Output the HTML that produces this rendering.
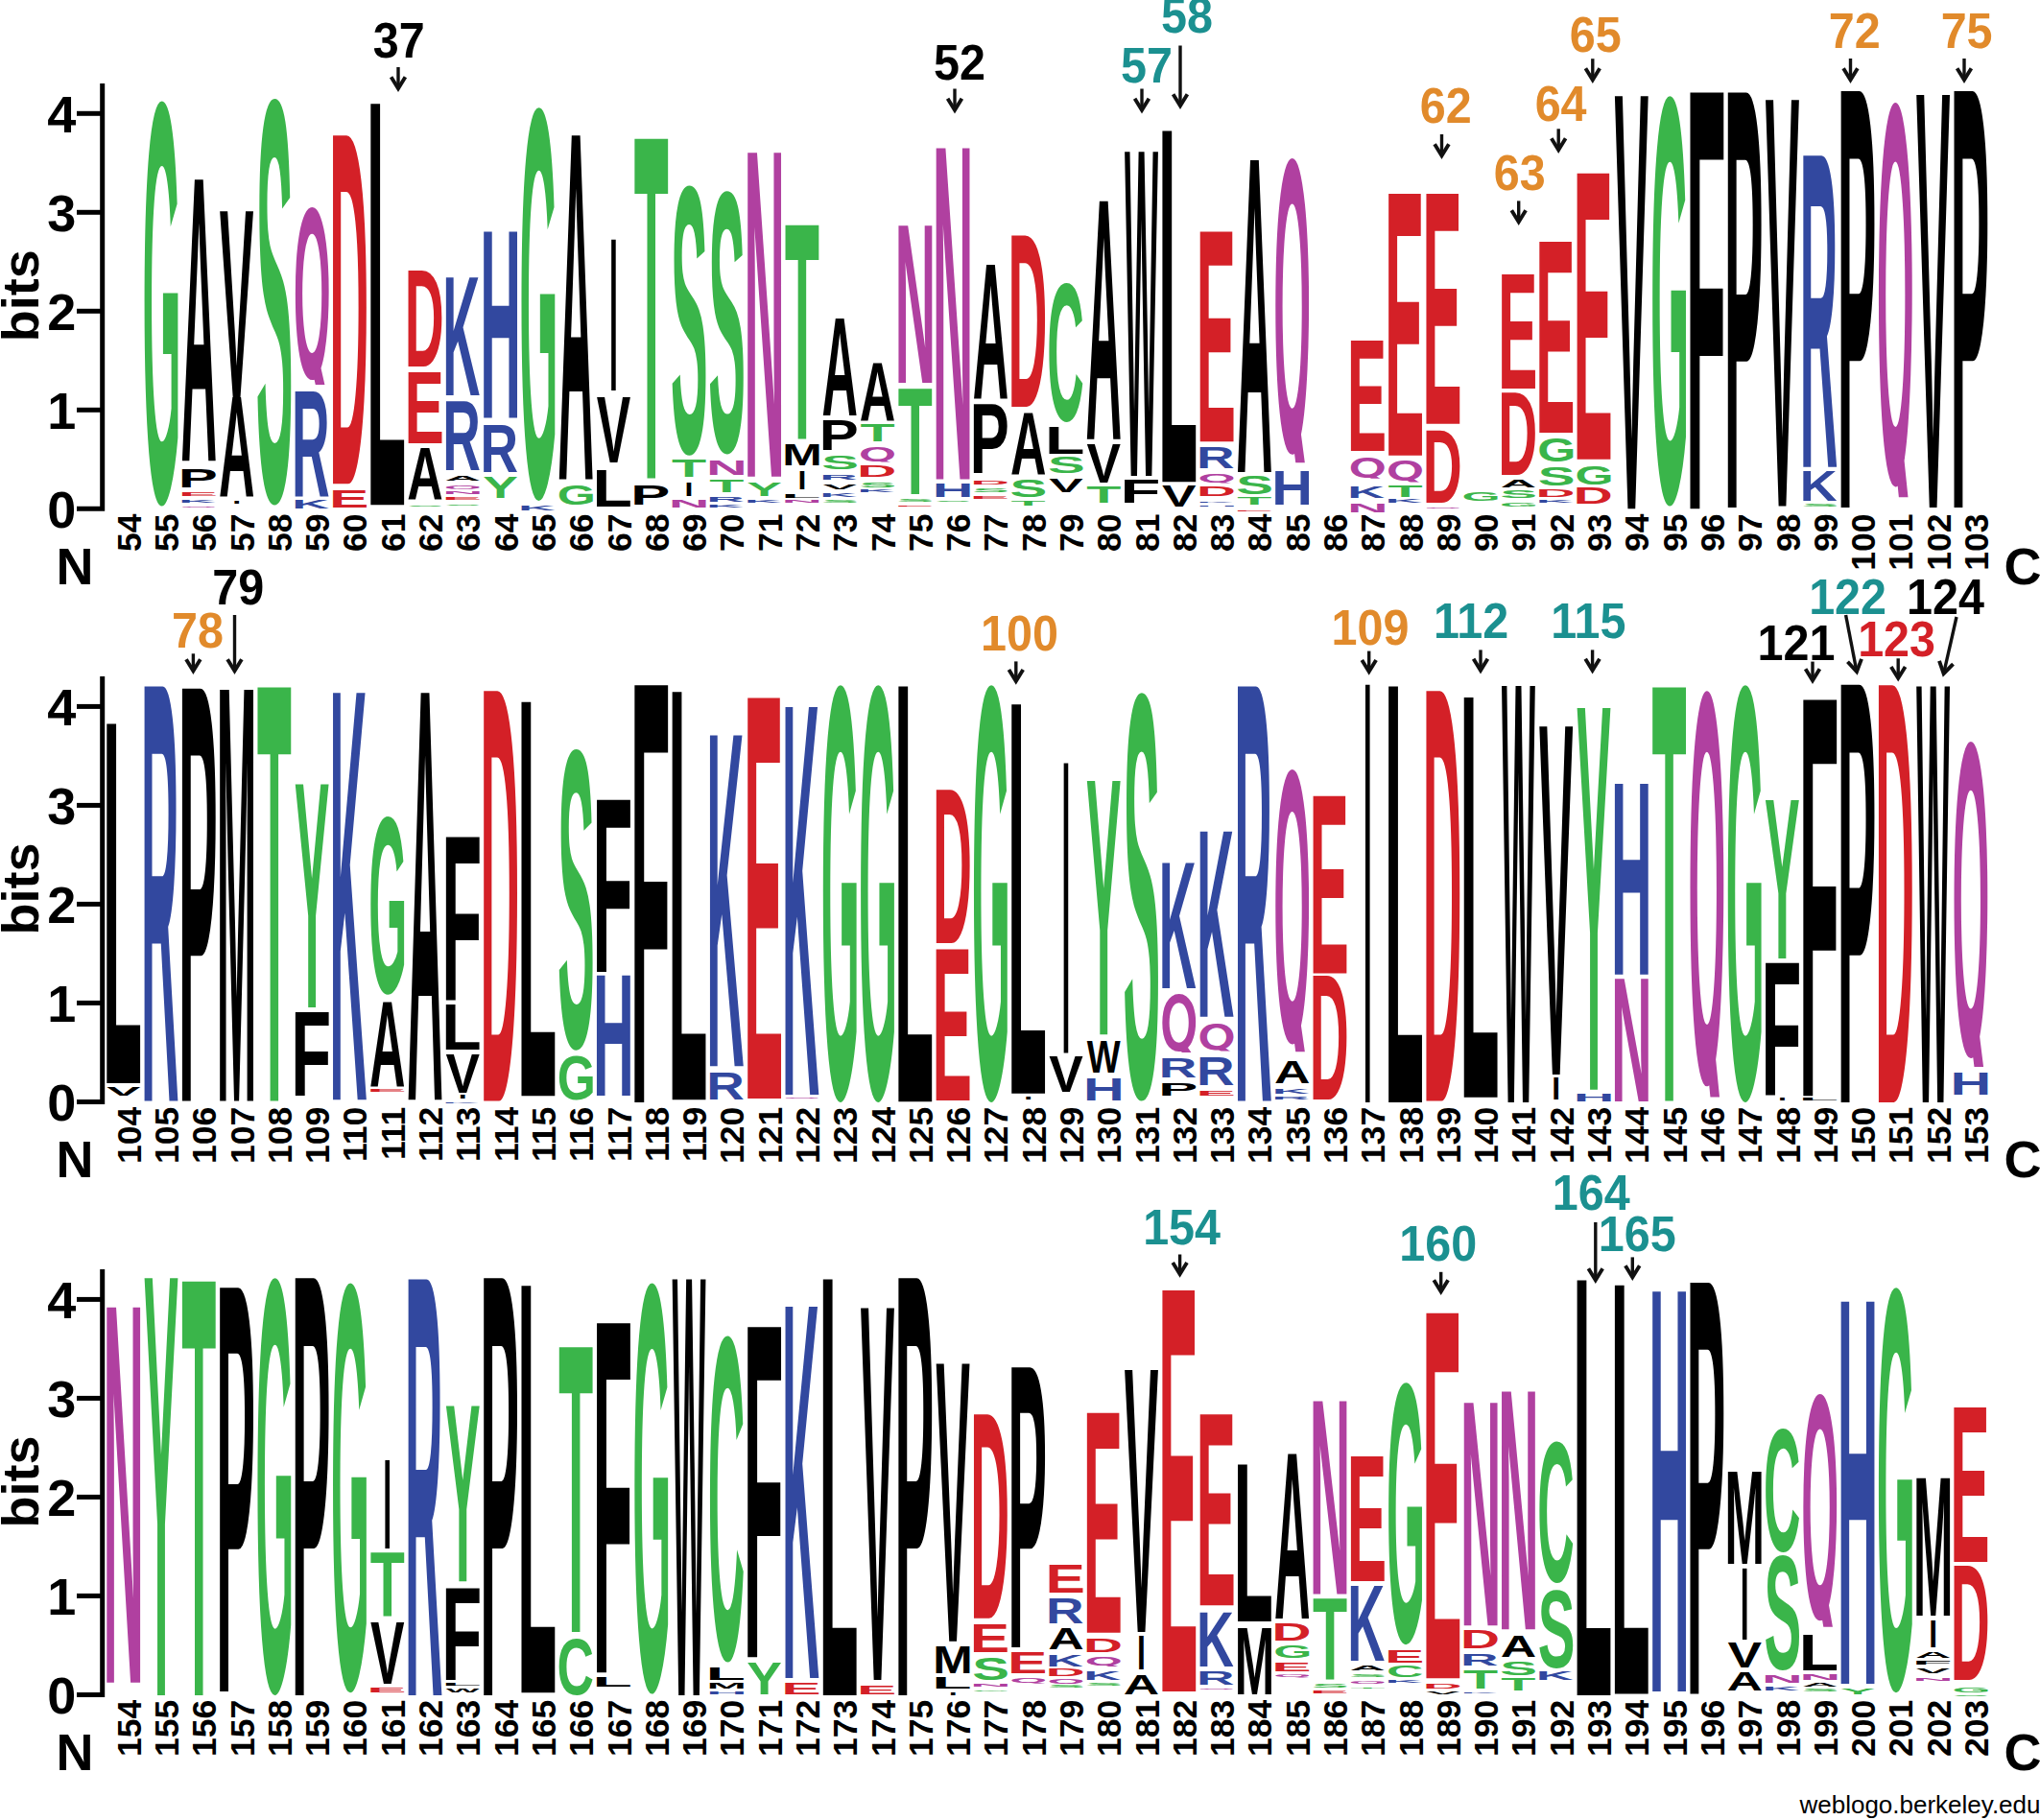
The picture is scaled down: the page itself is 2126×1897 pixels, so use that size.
<!DOCTYPE html>
<html><head><meta charset="utf-8"><title>Sequence logo</title>
<style>
html,body{margin:0;padding:0;background:#fff}
svg{display:block}
text{font-family:"Liberation Sans",sans-serif;font-weight:bold}
.L text{font-size:100px}
.L text.q{font-family:"NanumGothic","Liberation Sans",sans-serif;font-weight:800}
.ax{stroke:#000;stroke-width:5;fill:none}
.tk{font-size:54px;text-anchor:end}
.bits{font-size:54px;text-anchor:middle}
.nc{font-size:54px}
.cl{font-size:35.5px;text-anchor:end}
.an{font-size:48.5px;text-anchor:middle}
.ar{stroke:#111;stroke-width:3.4;fill:none}
.ah{fill:none;stroke:#111;stroke-width:3.9;stroke-linejoin:miter;stroke-miterlimit:10}
.wl{font-size:26px;font-weight:normal;text-anchor:end}
</style></head><body>
<svg width="2126" height="1897" viewBox="0 0 2126 1897">
<rect width="2126" height="1897" fill="#fff"/>
<g class="L">
<text transform="matrix(0.5157 0 0 5.9601 148.47 521.76)" fill="#3ab54a">G</text>
<text transform="matrix(0.5187 0 0 4.2564 188.59 480.20)">A</text>
<text transform="matrix(0.6149 0 0 0.2791 185.77 508.40)">P</text>
<text transform="matrix(0.6203 0 0 0.0596 185.73 516.60)" fill="#d42027">E</text>
<text transform="matrix(0.5387 0 0 0.0291 186.28 523.50)" fill="#32489f">K</text>
<svg x="186.88" y="524.40" width="40.80" height="4.50"><text class="q" transform="matrix(0.5097 0 0 0.0181 0.40 4.42)" fill="#b040a0">Q</text></svg>
<text transform="matrix(0.5327 0 0 2.8194 228.81 414.30)">V</text>
<text transform="matrix(0.5187 0 0 1.4971 227.88 517.30)">A</text>
<text transform="matrix(0.3193 0 0 0.0436 242.13 524.50)">I</text>
<text transform="matrix(0.5809 0 0 5.9820 266.79 520.66)" fill="#3ab54a">S</text>
<svg x="304.75" y="213.37" width="40.80" height="187.62"><text class="q" transform="matrix(0.5097 0 0 2.2270 0.40 177.59)" fill="#b040a0">Q</text></svg>
<text transform="matrix(0.5482 0 0 1.5909 304.08 518.35)" fill="#32489f">R</text>
<text transform="matrix(0.5387 0 0 0.1265 304.15 530.22)" fill="#32489f">K</text>
<text transform="matrix(0.5674 0 0 5.2776 343.24 504.30)" fill="#d42027">D</text>
<text transform="matrix(0.6203 0 0 0.2587 342.89 529.00)" fill="#d42027">E</text>
<text transform="matrix(0.6781 0 0 6.0760 381.79 526.26)">L</text>
<text transform="matrix(0.5674 0 0 1.4490 421.82 382.00)" fill="#d42027">D</text>
<text transform="matrix(0.6203 0 0 1.0683 421.47 461.70)" fill="#d42027">E</text>
<text transform="matrix(0.5187 0 0 0.7791 424.33 520.80)">A</text>
<text transform="matrix(0.5809 0 0 0.0254 423.95 527.78)" fill="#3ab54a">S</text>
<text transform="matrix(0.5387 0 0 1.7745 461.31 412.30)" fill="#32489f">K</text>
<text transform="matrix(0.5482 0 0 1.0393 461.24 489.90)" fill="#32489f">R</text>
<text transform="matrix(0.5187 0 0 0.0756 463.62 500.60)">A</text>
<svg x="461.91" y="502.70" width="40.80" height="7.10"><text class="q" transform="matrix(0.5097 0 0 0.0495 0.40 6.88)" fill="#b040a0">Q</text></svg>
<text transform="matrix(0.5919 0 0 0.0436 460.95 514.60)" fill="#b040a0">N</text>
<text transform="matrix(0.6203 0 0 0.0407 460.76 520.80)" fill="#d42027">E</text>
<text transform="matrix(0.5809 0 0 0.0198 463.24 527.38)" fill="#3ab54a">S</text>
<text transform="matrix(0.5919 0 0 2.8223 500.24 435.60)" fill="#32489f">H</text>
<text transform="matrix(0.5482 0 0 0.6991 500.53 491.90)" fill="#32489f">R</text>
<text transform="matrix(0.5491 0 0 0.3198 503.26 519.40)" fill="#3ab54a">Y</text>
<text transform="matrix(0.5157 0 0 5.7895 541.37 516.45)" fill="#3ab54a">G</text>
<text transform="matrix(0.5387 0 0 0.0799 539.89 531.50)" fill="#32489f">K</text>
<text transform="matrix(0.5187 0 0 5.2078 581.49 499.50)">A</text>
<text transform="matrix(0.5157 0 0 0.2910 580.66 526.02)" fill="#3ab54a">G</text>
<text transform="matrix(0.3193 0 0 2.2887 635.03 406.80)">I</text>
<text transform="matrix(0.5327 0 0 0.9884 621.71 482.30)">V</text>
<text transform="matrix(0.6781 0 0 0.5480 617.53 527.60)">L</text>
<text transform="matrix(0.5910 0 0 5.1445 660.70 498.57)" fill="#3ab54a">T</text>
<text transform="matrix(0.6149 0 0 0.2990 657.25 525.74)">P</text>
<text transform="matrix(0.5809 0 0 3.9741 698.98 470.92)" fill="#3ab54a">S</text>
<text transform="matrix(0.5910 0 0 0.2500 699.99 497.40)" fill="#3ab54a">T</text>
<text transform="matrix(0.3193 0 0 0.1991 713.61 516.60)">I</text>
<text transform="matrix(0.5919 0 0 0.1003 696.69 529.00)" fill="#b040a0">N</text>
<text transform="matrix(0.5809 0 0 3.8724 738.27 469.62)" fill="#3ab54a">S</text>
<text transform="matrix(0.5919 0 0 0.2195 735.98 494.70)" fill="#b040a0">N</text>
<text transform="matrix(0.5910 0 0 0.1788 739.28 512.50)" fill="#3ab54a">T</text>
<text transform="matrix(0.5482 0 0 0.0799 736.27 522.80)" fill="#32489f">R</text>
<text transform="matrix(0.5387 0 0 0.0291 736.34 529.00)" fill="#32489f">K</text>
<text transform="matrix(0.5919 0 0 4.9064 775.27 496.70)" fill="#b040a0">N</text>
<text transform="matrix(0.5491 0 0 0.2093 778.29 516.60)" fill="#3ab54a">Y</text>
<text transform="matrix(0.5387 0 0 0.0392 775.63 523.50)" fill="#32489f">K</text>
<text transform="matrix(0.5910 0 0 3.2379 817.86 457.60)" fill="#3ab54a">T</text>
<text transform="matrix(0.4977 0 0 0.3096 815.19 485.10)">M</text>
<text transform="matrix(0.3193 0 0 0.2805 831.48 509.80)">I</text>
<text transform="matrix(0.6781 0 0 0.0596 813.98 518.70)">L</text>
<text transform="matrix(0.5919 0 0 0.0305 814.56 524.20)" fill="#b040a0">N</text>
<text transform="matrix(0.5187 0 0 1.4579 856.52 432.90)">A</text>
<text transform="matrix(0.6149 0 0 0.4404 853.70 469.30)">P</text>
<text transform="matrix(0.5809 0 0 0.2034 856.14 489.00)" fill="#3ab54a">S</text>
<text transform="matrix(0.5482 0 0 0.0698 854.14 499.50)" fill="#32489f">R</text>
<text transform="matrix(0.5327 0 0 0.0799 857.45 509.80)">V</text>
<text transform="matrix(0.5387 0 0 0.0494 854.21 518.00)" fill="#32489f">K</text>
<text transform="matrix(0.5809 0 0 0.0297 856.14 524.17)" fill="#3ab54a">S</text>
<text transform="matrix(0.5187 0 0 0.8794 895.81 437.70)">A</text>
<text transform="matrix(0.5910 0 0 0.2587 896.44 460.30)" fill="#3ab54a">T</text>
<svg x="894.10" y="463.50" width="40.80" height="18.10"><text class="q" transform="matrix(0.5097 0 0 0.1821 0.40 17.28)" fill="#b040a0">Q</text></svg>
<text transform="matrix(0.5674 0 0 0.1599 893.30 497.40)" fill="#d42027">D</text>
<text transform="matrix(0.5809 0 0 0.0777 895.43 507.62)" fill="#3ab54a">S</text>
<text transform="matrix(0.5387 0 0 0.0291 893.50 513.20)" fill="#32489f">K</text>
<text transform="matrix(0.5919 0 0 2.3789 932.43 398.50)" fill="#b040a0">N</text>
<text transform="matrix(0.5910 0 0 1.5974 935.73 515.30)" fill="#3ab54a">T</text>
<text transform="matrix(0.5809 0 0 0.0282 934.72 522.77)" fill="#3ab54a">S</text>
<text transform="matrix(0.6203 0 0 0.0189 932.24 527.80)" fill="#d42027">E</text>
<text transform="matrix(0.5919 0 0 5.0161 971.72 499.50)" fill="#b040a0">N</text>
<text transform="matrix(0.5919 0 0 0.2093 971.72 518.00)" fill="#32489f">H</text>
<text transform="matrix(0.5809 0 0 0.0198 974.01 523.48)" fill="#3ab54a">S</text>
<text transform="matrix(0.5187 0 0 2.0257 1013.68 416.40)">A</text>
<text transform="matrix(0.6149 0 0 1.0378 1010.86 493.30)">P</text>
<text transform="matrix(0.5674 0 0 0.0509 1011.17 505.00)" fill="#d42027">D</text>
<text transform="matrix(0.5809 0 0 0.0480 1013.30 513.15)" fill="#3ab54a">S</text>
<text transform="matrix(0.6203 0 0 0.0407 1010.82 520.10)" fill="#d42027">E</text>
<text transform="matrix(0.5674 0 0 2.5947 1050.46 423.90)" fill="#d42027">D</text>
<text transform="matrix(0.5187 0 0 0.9288 1052.97 494.00)">A</text>
<text transform="matrix(0.5809 0 0 0.2613 1052.59 517.74)" fill="#3ab54a">S</text>
<text transform="matrix(0.5910 0 0 0.0712 1053.60 527.00)" fill="#3ab54a">T</text>
<text transform="matrix(0.5323 0 0 2.0466 1091.37 437.70)" fill="#3ab54a">C</text>
<text transform="matrix(0.6781 0 0 0.3997 1089.01 472.70)">L</text>
<text transform="matrix(0.5809 0 0 0.2330 1091.88 493.07)" fill="#3ab54a">S</text>
<text transform="matrix(0.5327 0 0 0.2093 1093.19 512.50)">V</text>
<text transform="matrix(0.5187 0 0 3.6034 1131.55 457.69)">A</text>
<text transform="matrix(0.5327 0 0 0.5750 1132.48 502.53)">V</text>
<text transform="matrix(0.5910 0 0 0.2300 1132.18 523.63)" fill="#3ab54a">T</text>
<text transform="matrix(0.3695 0 0 4.9068 1172.09 495.93)">W</text>
<text transform="matrix(0.6860 0 0 0.3450 1167.54 523.63)">F</text>
<text transform="matrix(0.6781 0 0 5.3161 1206.88 502.20)">L</text>
<text transform="matrix(0.5327 0 0 0.3096 1211.06 528.30)">V</text>
<text transform="matrix(0.6203 0 0 3.1813 1246.56 460.30)" fill="#d42027">E</text>
<text transform="matrix(0.5482 0 0 0.3096 1247.04 487.80)" fill="#32489f">R</text>
<svg x="1247.71" y="490.30" width="40.80" height="13.30"><text class="q" transform="matrix(0.5097 0 0 0.1242 0.40 12.74)" fill="#b040a0">Q</text></svg>
<text transform="matrix(0.5674 0 0 0.1395 1246.91 516.60)" fill="#d42027">D</text>
<text transform="matrix(0.5387 0 0 0.0203 1247.11 523.50)" fill="#32489f">K</text>
<text transform="matrix(0.5919 0 0 0.0189 1246.75 528.30)" fill="#32489f">H</text>
<text transform="matrix(0.5187 0 0 4.7217 1288.71 491.90)">A</text>
<text transform="matrix(0.5809 0 0 0.2726 1288.33 515.03)" fill="#3ab54a">S</text>
<text transform="matrix(0.5910 0 0 0.1003 1289.34 525.60)" fill="#3ab54a">T</text>
<text transform="matrix(0.6203 0 0 0.0233 1285.85 532.60)" fill="#d42027">E</text>
<svg x="1326.29" y="161.95" width="40.80" height="320.35"><text class="q" transform="matrix(0.5097 0 0 3.8282 0.40 303.13)" fill="#b040a0">Q</text></svg>
<text transform="matrix(0.5919 0 0 0.5000 1325.33 525.60)" fill="#32489f">H</text>
<text transform="matrix(0.6203 0 0 1.6774 1403.72 470.00)" fill="#d42027">E</text>
<svg x="1404.87" y="472.40" width="40.80" height="26.40"><text class="q" transform="matrix(0.5097 0 0 0.2823 0.40 25.13)" fill="#b040a0">Q</text></svg>
<text transform="matrix(0.5387 0 0 0.1599 1404.27 519.40)" fill="#32489f">K</text>
<text transform="matrix(0.5919 0 0 0.1352 1403.91 533.50)" fill="#b040a0">N</text>
<text transform="matrix(0.6203 0 0 3.9676 1443.01 474.84)" fill="#d42027">E</text>
<svg x="1444.16" y="477.11" width="40.80" height="25.42"><text class="q" transform="matrix(0.5097 0 0 0.2704 0.40 24.20)" fill="#b040a0">Q</text></svg>
<text transform="matrix(0.5910 0 0 0.1725 1446.50 518.35)" fill="#3ab54a">T</text>
<text transform="matrix(0.5387 0 0 0.0575 1443.56 523.89)" fill="#32489f">K</text>
<text transform="matrix(0.6203 0 0 3.4874 1482.30 441.80)" fill="#d42027">E</text>
<text transform="matrix(0.5674 0 0 1.1018 1482.65 523.80)" fill="#d42027">D</text>
<svg x="1483.45" y="526.00" width="40.80" height="4.40"><text class="q" transform="matrix(0.5097 0 0 0.0169 0.40 4.32)" fill="#b040a0">Q</text></svg>
<text transform="matrix(0.5157 0 0 0.1257 1523.62 521.98)" fill="#3ab54a">G</text>
<text transform="matrix(0.6203 0 0 1.7292 1560.88 404.70)" fill="#d42027">E</text>
<text transform="matrix(0.5674 0 0 1.2486 1561.23 495.40)" fill="#d42027">D</text>
<text transform="matrix(0.5187 0 0 0.1090 1563.74 507.70)">A</text>
<text transform="matrix(0.5809 0 0 0.1158 1563.36 519.29)" fill="#3ab54a">S</text>
<text transform="matrix(0.5157 0 0 0.0579 1562.91 528.24)" fill="#3ab54a">G</text>
<text transform="matrix(0.6203 0 0 2.8942 1600.17 451.10)" fill="#d42027">E</text>
<text transform="matrix(0.5157 0 0 0.3539 1602.20 481.08)" fill="#3ab54a">G</text>
<text transform="matrix(0.5809 0 0 0.2794 1602.65 506.21)" fill="#3ab54a">S</text>
<text transform="matrix(0.5674 0 0 0.1150 1600.52 518.35)" fill="#d42027">D</text>
<text transform="matrix(0.5387 0 0 0.0307 1600.72 524.15)" fill="#32489f">K</text>
<text transform="matrix(0.6203 0 0 4.3318 1639.46 478.79)" fill="#d42027">E</text>
<text transform="matrix(0.5157 0 0 0.2794 1641.49 504.89)" fill="#3ab54a">G</text>
<text transform="matrix(0.5674 0 0 0.2300 1639.81 524.95)" fill="#d42027">D</text>
<text transform="matrix(0.5327 0 0 6.2482 1682.54 530.20)">V</text>
<text transform="matrix(0.5157 0 0 6.0346 1720.07 521.69)" fill="#3ab54a">G</text>
<text transform="matrix(0.6860 0 0 6.3057 1756.89 530.20)">F</text>
<text transform="matrix(0.6149 0 0 6.2868 1796.66 528.90)">P</text>
<text transform="matrix(0.5327 0 0 6.1527 1839.70 527.58)">V</text>
<text transform="matrix(0.5482 0 0 4.7151 1875.68 486.70)" fill="#32489f">R</text>
<text transform="matrix(0.5387 0 0 0.4408 1875.75 522.31)" fill="#32489f">K</text>
<text transform="matrix(0.5809 0 0 0.0298 1877.68 528.08)" fill="#3ab54a">S</text>
<text transform="matrix(0.6149 0 0 6.3060 1914.53 528.90)">P</text>
<svg x="1954.93" y="103.92" width="40.80" height="414.43"><text class="q" transform="matrix(0.5097 0 0 4.9630 0.40 392.10)" fill="#b040a0">Q</text></svg>
<text transform="matrix(0.5327 0 0 6.2485 1996.86 528.90)">V</text>
<text transform="matrix(0.6149 0 0 6.3060 2032.40 528.90)">P</text>
</g>
<path d="M106.7 87.0V532.8M109.2 530.3H80" class="ax"/>
<path d="M106.7 427.3H80" class="ax"/>
<path d="M106.7 324.3H80" class="ax"/>
<path d="M106.7 221.3H80" class="ax"/>
<path d="M106.7 118.3H80" class="ax"/>
<text class="tk" x="79.3" y="549.6">0</text>
<text class="tk" x="79.3" y="446.6">1</text>
<text class="tk" x="79.3" y="343.6">2</text>
<text class="tk" x="79.3" y="240.6">3</text>
<text class="tk" x="79.3" y="137.6">4</text>
<text class="bits" transform="translate(40 308.3) rotate(-90)">bits</text>
<text class="nc" x="78" y="608.9" text-anchor="middle">N</text>
<text class="nc" x="2108" y="608.9" text-anchor="middle">C</text>
<text class="cl" transform="translate(146.7 535.6) rotate(-90)">54</text>
<text class="cl" transform="translate(186.0 535.6) rotate(-90)">55</text>
<text class="cl" transform="translate(225.3 535.6) rotate(-90)">56</text>
<text class="cl" transform="translate(264.6 535.6) rotate(-90)">57</text>
<text class="cl" transform="translate(303.9 535.6) rotate(-90)">58</text>
<text class="cl" transform="translate(343.1 535.6) rotate(-90)">59</text>
<text class="cl" transform="translate(382.4 535.6) rotate(-90)">60</text>
<text class="cl" transform="translate(421.7 535.6) rotate(-90)">61</text>
<text class="cl" transform="translate(461.0 535.6) rotate(-90)">62</text>
<text class="cl" transform="translate(500.3 535.6) rotate(-90)">63</text>
<text class="cl" transform="translate(539.6 535.6) rotate(-90)">64</text>
<text class="cl" transform="translate(578.9 535.6) rotate(-90)">65</text>
<text class="cl" transform="translate(618.2 535.6) rotate(-90)">66</text>
<text class="cl" transform="translate(657.5 535.6) rotate(-90)">67</text>
<text class="cl" transform="translate(696.8 535.6) rotate(-90)">68</text>
<text class="cl" transform="translate(736.0 535.6) rotate(-90)">69</text>
<text class="cl" transform="translate(775.3 535.6) rotate(-90)">70</text>
<text class="cl" transform="translate(814.6 535.6) rotate(-90)">71</text>
<text class="cl" transform="translate(853.9 535.6) rotate(-90)">72</text>
<text class="cl" transform="translate(893.2 535.6) rotate(-90)">73</text>
<text class="cl" transform="translate(932.5 535.6) rotate(-90)">74</text>
<text class="cl" transform="translate(971.8 535.6) rotate(-90)">75</text>
<text class="cl" transform="translate(1011.1 535.6) rotate(-90)">76</text>
<text class="cl" transform="translate(1050.4 535.6) rotate(-90)">77</text>
<text class="cl" transform="translate(1089.7 535.6) rotate(-90)">78</text>
<text class="cl" transform="translate(1129.0 535.6) rotate(-90)">79</text>
<text class="cl" transform="translate(1168.2 535.6) rotate(-90)">80</text>
<text class="cl" transform="translate(1207.5 535.6) rotate(-90)">81</text>
<text class="cl" transform="translate(1246.8 535.6) rotate(-90)">82</text>
<text class="cl" transform="translate(1286.1 535.6) rotate(-90)">83</text>
<text class="cl" transform="translate(1325.4 535.6) rotate(-90)">84</text>
<text class="cl" transform="translate(1364.7 535.6) rotate(-90)">85</text>
<text class="cl" transform="translate(1404.0 535.6) rotate(-90)">86</text>
<text class="cl" transform="translate(1443.3 535.6) rotate(-90)">87</text>
<text class="cl" transform="translate(1482.6 535.6) rotate(-90)">88</text>
<text class="cl" transform="translate(1521.8 535.6) rotate(-90)">89</text>
<text class="cl" transform="translate(1561.1 535.6) rotate(-90)">90</text>
<text class="cl" transform="translate(1600.4 535.6) rotate(-90)">91</text>
<text class="cl" transform="translate(1639.7 535.6) rotate(-90)">92</text>
<text class="cl" transform="translate(1679.0 535.6) rotate(-90)">93</text>
<text class="cl" transform="translate(1718.3 535.6) rotate(-90)">94</text>
<text class="cl" transform="translate(1757.6 535.6) rotate(-90)">95</text>
<text class="cl" transform="translate(1796.9 535.6) rotate(-90)">96</text>
<text class="cl" transform="translate(1836.2 535.6) rotate(-90)">97</text>
<text class="cl" transform="translate(1875.5 535.6) rotate(-90)">98</text>
<text class="cl" transform="translate(1914.8 535.6) rotate(-90)">99</text>
<text class="cl" transform="translate(1954.0 535.6) rotate(-90)">100</text>
<text class="cl" transform="translate(1993.3 535.6) rotate(-90)">101</text>
<text class="cl" transform="translate(2032.6 535.6) rotate(-90)">102</text>
<text class="cl" transform="translate(2071.9 535.6) rotate(-90)">103</text>
<g class="L">
<text transform="matrix(0.6781 0 0 5.4435 106.76 1129.12)">L</text>
<text transform="matrix(0.5327 0 0 0.1342 110.94 1142.31)">V</text>
<text transform="matrix(0.5482 0 0 6.2792 146.92 1147.58)" fill="#32489f">R</text>
<text transform="matrix(0.6149 0 0 6.2485 185.77 1147.58)">P</text>
<text transform="matrix(0.4977 0 0 6.2293 225.84 1147.58)">M</text>
<text transform="matrix(0.5910 0 0 6.2677 267.80 1147.58)" fill="#3ab54a">T</text>
<text transform="matrix(0.5491 0 0 3.3811 306.81 1050.00)" fill="#3ab54a">Y</text>
<text transform="matrix(0.6860 0 0 1.2650 303.16 1142.31)">F</text>
<text transform="matrix(0.5387 0 0 6.1642 343.44 1146.26)" fill="#32489f">K</text>
<text transform="matrix(0.5157 0 0 2.6262 384.21 1034.25)" fill="#3ab54a">G</text>
<text transform="matrix(0.5187 0 0 1.2842 385.04 1133.08)">A</text>
<text transform="matrix(0.6203 0 0 0.0307 382.18 1137.82)" fill="#d42027">E</text>
<text transform="matrix(0.5187 0 0 6.1642 424.33 1146.26)">A</text>
<text transform="matrix(0.6860 0 0 2.4698 460.32 1041.90)">F</text>
<text transform="matrix(0.6781 0 0 0.6788 460.37 1094.10)">L</text>
<text transform="matrix(0.5327 0 0 0.5698 464.55 1138.80)">V</text>
<text transform="matrix(0.3193 0 0 0.0509 477.87 1145.00)">I</text>
<text transform="matrix(0.5387 0 0 0.0174 461.31 1150.20)" fill="#32489f">K</text>
<text transform="matrix(0.5674 0 0 6.2102 500.40 1147.58)" fill="#d42027">D</text>
<text transform="matrix(0.6781 0 0 5.9687 538.95 1142.31)">L</text>
<text transform="matrix(0.5809 0 0 4.4323 581.11 1090.47)" fill="#3ab54a">S</text>
<text transform="matrix(0.5157 0 0 0.6497 580.66 1145.67)" fill="#3ab54a">G</text>
<text transform="matrix(0.6860 0 0 2.6067 617.48 1013.08)">F</text>
<text transform="matrix(0.5919 0 0 1.8209 618.11 1142.31)" fill="#32489f">H</text>
<text transform="matrix(0.6860 0 0 6.3175 656.77 1148.90)">F</text>
<text transform="matrix(0.6781 0 0 6.1795 696.11 1146.26)">L</text>
<text transform="matrix(0.5387 0 0 5.0120 736.34 1111.30)" fill="#32489f">K</text>
<text transform="matrix(0.5482 0 0 0.4084 736.27 1146.30)" fill="#32489f">R</text>
<text transform="matrix(0.6203 0 0 6.0683 775.08 1144.95)" fill="#d42027">E</text>
<text transform="matrix(0.5387 0 0 5.8728 814.92 1140.99)" fill="#32489f">K</text>
<svg x="815.52" y="1140.63" width="40.80" height="4.58"><text class="q" transform="matrix(0.5097 0 0 0.0191 0.40 4.50)" fill="#b040a0">Q</text></svg>
<text transform="matrix(0.5157 0 0 6.1389 855.69 1142.91)" fill="#3ab54a">G</text>
<text transform="matrix(0.5157 0 0 6.1389 894.98 1142.91)" fill="#3ab54a">G</text>
<text transform="matrix(0.6781 0 0 6.2907 931.85 1148.37)">L</text>
<text transform="matrix(0.5674 0 0 2.3215 971.88 982.90)" fill="#d42027">D</text>
<text transform="matrix(0.6203 0 0 2.2762 971.53 1147.00)" fill="#d42027">E</text>
<text transform="matrix(0.5157 0 0 6.1389 1012.85 1142.91)" fill="#3ab54a">G</text>
<text transform="matrix(0.6781 0 0 5.8920 1049.72 1139.67)">L</text>
<text transform="matrix(0.3193 0 0 0.0422 1067.22 1146.26)">I</text>
<text transform="matrix(0.3193 0 0 4.3893 1106.51 1097.47)">I</text>
<text transform="matrix(0.5327 0 0 0.5367 1093.19 1138.35)">V</text>
<text transform="matrix(0.5491 0 0 3.8423 1131.90 1078.30)" fill="#3ab54a">Y</text>
<text transform="matrix(0.3695 0 0 0.4797 1132.80 1118.20)">W</text>
<text transform="matrix(0.5919 0 0 0.3387 1128.88 1147.00)" fill="#32489f">H</text>
<text transform="matrix(0.5809 0 0 6.0085 1170.46 1141.71)" fill="#3ab54a">S</text>
<text transform="matrix(0.5387 0 0 1.8885 1207.82 1029.60)" fill="#32489f">K</text>
<svg x="1208.42" y="1032.70" width="40.80" height="64.20"><text class="q" transform="matrix(0.5097 0 0 0.7382 0.40 60.88)" fill="#b040a0">Q</text></svg>
<text transform="matrix(0.5482 0 0 0.2907 1207.75 1123.00)" fill="#32489f">R</text>
<text transform="matrix(0.6149 0 0 0.1802 1207.31 1141.50)">P</text>
<text transform="matrix(0.5387 0 0 2.8067 1247.11 1059.80)" fill="#32489f">K</text>
<svg x="1247.71" y="1063.70" width="40.80" height="31.80"><text class="q" transform="matrix(0.5097 0 0 0.3474 0.40 30.24)" fill="#b040a0">Q</text></svg>
<text transform="matrix(0.5482 0 0 0.4186 1247.04 1131.20)" fill="#32489f">R</text>
<text transform="matrix(0.6203 0 0 0.0799 1246.56 1141.50)" fill="#d42027">E</text>
<text transform="matrix(0.5482 0 0 6.2792 1286.33 1147.58)" fill="#32489f">R</text>
<svg x="1326.29" y="799.09" width="40.80" height="297.11"><text class="q" transform="matrix(0.5097 0 0 3.5478 0.40 281.15)" fill="#b040a0">Q</text></svg>
<text transform="matrix(0.5187 0 0 0.3387 1328.00 1129.10)">A</text>
<text transform="matrix(0.5387 0 0 0.0799 1325.69 1140.10)" fill="#32489f">K</text>
<text transform="matrix(0.5482 0 0 0.0291 1325.62 1145.60)" fill="#32489f">R</text>
<text transform="matrix(0.6203 0 0 2.6834 1364.43 1014.40)" fill="#d42027">E</text>
<text transform="matrix(0.5674 0 0 1.8784 1364.78 1146.26)" fill="#d42027">D</text>
<text transform="matrix(0.3193 0 0 6.3252 1420.83 1148.90)">I</text>
<text transform="matrix(0.6781 0 0 6.2983 1442.62 1148.90)">L</text>
<text transform="matrix(0.5674 0 0 6.2102 1482.65 1147.58)" fill="#d42027">D</text>
<text transform="matrix(0.6781 0 0 6.0568 1521.20 1143.63)">L</text>
<text transform="matrix(0.3695 0 0 6.3060 1564.99 1148.90)">W</text>
<text transform="matrix(0.5327 0 0 5.2710 1603.96 1119.89)">V</text>
<text transform="matrix(0.3193 0 0 0.3258 1617.28 1146.26)">I</text>
<text transform="matrix(0.5491 0 0 5.7808 1642.67 1135.71)" fill="#3ab54a">Y</text>
<text transform="matrix(0.5919 0 0 0.1150 1639.65 1147.58)" fill="#32489f">H</text>
<text transform="matrix(0.5919 0 0 2.8866 1678.94 1015.71)" fill="#32489f">H</text>
<text transform="matrix(0.5919 0 0 1.8592 1678.94 1147.58)" fill="#b040a0">N</text>
<text transform="matrix(0.5910 0 0 6.2677 1721.53 1147.58)" fill="#3ab54a">T</text>
<svg x="1758.48" y="717.33" width="40.80" height="426.27"><text class="q" transform="matrix(0.5097 0 0 5.1058 0.40 403.29)" fill="#b040a0">Q</text></svg>
<text transform="matrix(0.5157 0 0 6.1389 1798.65 1142.91)" fill="#3ab54a">G</text>
<text transform="matrix(0.5491 0 0 2.4036 1839.12 998.57)" fill="#3ab54a">Y</text>
<text transform="matrix(0.6860 0 0 2.0126 1835.47 1142.31)">F</text>
<text transform="matrix(0.3193 0 0 0.0307 1853.02 1146.79)">I</text>
<text transform="matrix(0.6860 0 0 5.9993 1874.76 1142.31)">F</text>
<text transform="matrix(0.6781 0 0 0.0268 1874.81 1147.32)">L</text>
<text transform="matrix(0.6149 0 0 6.3252 1914.53 1148.90)">P</text>
<text transform="matrix(0.5674 0 0 6.3175 1954.13 1148.90)" fill="#d42027">D</text>
<text transform="matrix(0.3695 0 0 6.2983 1997.18 1148.90)">W</text>
<svg x="2033.51" y="770.08" width="40.80" height="341.90"><text class="q" transform="matrix(0.5097 0 0 4.0881 0.40 323.50)" fill="#b040a0">Q</text></svg>
<text transform="matrix(0.5919 0 0 0.3258 2032.55 1140.99)" fill="#32489f">H</text>
</g>
<path d="M106.7 705.1V1150.9M109.2 1148.4H80" class="ax"/>
<path d="M106.7 1045.4H80" class="ax"/>
<path d="M106.7 942.4H80" class="ax"/>
<path d="M106.7 839.4H80" class="ax"/>
<path d="M106.7 736.4H80" class="ax"/>
<text class="tk" x="79.3" y="1167.7">0</text>
<text class="tk" x="79.3" y="1064.7">1</text>
<text class="tk" x="79.3" y="961.7">2</text>
<text class="tk" x="79.3" y="858.7">3</text>
<text class="tk" x="79.3" y="755.7">4</text>
<text class="bits" transform="translate(40 926.4) rotate(-90)">bits</text>
<text class="nc" x="78" y="1227.0" text-anchor="middle">N</text>
<text class="nc" x="2108" y="1227.0" text-anchor="middle">C</text>
<text class="cl" transform="translate(146.7 1153.7) rotate(-90)">104</text>
<text class="cl" transform="translate(186.0 1153.7) rotate(-90)">105</text>
<text class="cl" transform="translate(225.3 1153.7) rotate(-90)">106</text>
<text class="cl" transform="translate(264.6 1153.7) rotate(-90)">107</text>
<text class="cl" transform="translate(303.9 1153.7) rotate(-90)">108</text>
<text class="cl" transform="translate(343.1 1153.7) rotate(-90)">109</text>
<text class="cl" transform="translate(382.4 1153.7) rotate(-90)">110</text>
<text class="cl" transform="translate(421.7 1153.7) rotate(-90)">111</text>
<text class="cl" transform="translate(461.0 1153.7) rotate(-90)">112</text>
<text class="cl" transform="translate(500.3 1153.7) rotate(-90)">113</text>
<text class="cl" transform="translate(539.6 1153.7) rotate(-90)">114</text>
<text class="cl" transform="translate(578.9 1153.7) rotate(-90)">115</text>
<text class="cl" transform="translate(618.2 1153.7) rotate(-90)">116</text>
<text class="cl" transform="translate(657.5 1153.7) rotate(-90)">117</text>
<text class="cl" transform="translate(696.8 1153.7) rotate(-90)">118</text>
<text class="cl" transform="translate(736.0 1153.7) rotate(-90)">119</text>
<text class="cl" transform="translate(775.3 1153.7) rotate(-90)">120</text>
<text class="cl" transform="translate(814.6 1153.7) rotate(-90)">121</text>
<text class="cl" transform="translate(853.9 1153.7) rotate(-90)">122</text>
<text class="cl" transform="translate(893.2 1153.7) rotate(-90)">123</text>
<text class="cl" transform="translate(932.5 1153.7) rotate(-90)">124</text>
<text class="cl" transform="translate(971.8 1153.7) rotate(-90)">125</text>
<text class="cl" transform="translate(1011.1 1153.7) rotate(-90)">126</text>
<text class="cl" transform="translate(1050.4 1153.7) rotate(-90)">127</text>
<text class="cl" transform="translate(1089.7 1153.7) rotate(-90)">128</text>
<text class="cl" transform="translate(1129.0 1153.7) rotate(-90)">129</text>
<text class="cl" transform="translate(1168.2 1153.7) rotate(-90)">130</text>
<text class="cl" transform="translate(1207.5 1153.7) rotate(-90)">131</text>
<text class="cl" transform="translate(1246.8 1153.7) rotate(-90)">132</text>
<text class="cl" transform="translate(1286.1 1153.7) rotate(-90)">133</text>
<text class="cl" transform="translate(1325.4 1153.7) rotate(-90)">134</text>
<text class="cl" transform="translate(1364.7 1153.7) rotate(-90)">135</text>
<text class="cl" transform="translate(1404.0 1153.7) rotate(-90)">136</text>
<text class="cl" transform="translate(1443.3 1153.7) rotate(-90)">137</text>
<text class="cl" transform="translate(1482.6 1153.7) rotate(-90)">138</text>
<text class="cl" transform="translate(1521.8 1153.7) rotate(-90)">139</text>
<text class="cl" transform="translate(1561.1 1153.7) rotate(-90)">140</text>
<text class="cl" transform="translate(1600.4 1153.7) rotate(-90)">141</text>
<text class="cl" transform="translate(1639.7 1153.7) rotate(-90)">142</text>
<text class="cl" transform="translate(1679.0 1153.7) rotate(-90)">143</text>
<text class="cl" transform="translate(1718.3 1153.7) rotate(-90)">144</text>
<text class="cl" transform="translate(1757.6 1153.7) rotate(-90)">145</text>
<text class="cl" transform="translate(1796.9 1153.7) rotate(-90)">146</text>
<text class="cl" transform="translate(1836.2 1153.7) rotate(-90)">147</text>
<text class="cl" transform="translate(1875.5 1153.7) rotate(-90)">148</text>
<text class="cl" transform="translate(1914.8 1153.7) rotate(-90)">149</text>
<text class="cl" transform="translate(1954.0 1153.7) rotate(-90)">150</text>
<text class="cl" transform="translate(1993.3 1153.7) rotate(-90)">151</text>
<text class="cl" transform="translate(2032.6 1153.7) rotate(-90)">152</text>
<text class="cl" transform="translate(2071.9 1153.7) rotate(-90)">153</text>
<g class="L">
<text transform="matrix(0.5919 0 0 5.6812 107.34 1753.71)" fill="#b040a0">N</text>
<text transform="matrix(0.5491 0 0 6.3175 149.65 1766.90)" fill="#3ab54a">Y</text>
<text transform="matrix(0.5910 0 0 6.2677 189.22 1766.90)" fill="#3ab54a">T</text>
<text transform="matrix(0.6149 0 0 6.1143 225.06 1762.95)">P</text>
<text transform="matrix(0.5157 0 0 6.1389 266.34 1760.91)" fill="#3ab54a">G</text>
<text transform="matrix(0.6149 0 0 6.3175 303.64 1766.90)">P</text>
<text transform="matrix(0.5157 0 0 6.0271 344.92 1758.38)" fill="#3ab54a">G</text>
<text transform="matrix(0.3193 0 0 1.3417 399.29 1613.93)">I</text>
<text transform="matrix(0.5910 0 0 0.9584 385.67 1685.14)" fill="#3ab54a">T</text>
<text transform="matrix(0.5327 0 0 0.9200 385.97 1755.03)">V</text>
<text transform="matrix(0.6203 0 0 0.0767 382.18 1764.26)" fill="#d42027">E</text>
<text transform="matrix(0.5482 0 0 6.2983 421.95 1766.90)" fill="#32489f">R</text>
<text transform="matrix(0.5491 0 0 2.6566 463.97 1648.22)" fill="#3ab54a">Y</text>
<text transform="matrix(0.6860 0 0 1.3992 460.32 1751.08)">F</text>
<text transform="matrix(0.6781 0 0 0.0345 460.37 1757.14)">L</text>
<text transform="matrix(0.3695 0 0 0.0537 464.87 1763.74)">W</text>
<text transform="matrix(0.6149 0 0 6.3175 500.09 1766.90)">P</text>
<text transform="matrix(0.6781 0 0 6.1642 538.95 1764.26)">L</text>
<text transform="matrix(0.5910 0 0 4.3146 582.12 1701.10)" fill="#3ab54a">T</text>
<text transform="matrix(0.5323 0 0 0.8347 580.60 1765.58)" fill="#3ab54a">C</text>
<text transform="matrix(0.6860 0 0 5.2901 617.48 1743.16)">F</text>
<text transform="matrix(0.6781 0 0 0.1533 617.53 1757.67)">L</text>
<text transform="matrix(0.5157 0 0 6.0458 659.24 1759.68)" fill="#3ab54a">G</text>
<text transform="matrix(0.3695 0 0 6.2983 700.61 1766.90)">W</text>
<text transform="matrix(0.5323 0 0 4.8053 737.76 1727.92)" fill="#3ab54a">C</text>
<text transform="matrix(0.6781 0 0 0.1917 735.40 1751.08)">L</text>
<text transform="matrix(0.4977 0 0 0.0958 736.61 1760.31)">M</text>
<text transform="matrix(0.5919 0 0 0.0422 735.98 1765.58)" fill="#32489f">H</text>
<text transform="matrix(0.6860 0 0 5.0026 774.64 1727.34)">F</text>
<text transform="matrix(0.5491 0 0 0.4792 778.29 1765.58)" fill="#3ab54a">Y</text>
<text transform="matrix(0.5387 0 0 5.6237 814.92 1748.97)" fill="#32489f">K</text>
<text transform="matrix(0.6203 0 0 0.1725 814.37 1765.58)" fill="#d42027">E</text>
<text transform="matrix(0.6781 0 0 6.2983 853.27 1766.90)">L</text>
<text transform="matrix(0.5327 0 0 5.6352 896.74 1751.08)">V</text>
<text transform="matrix(0.6203 0 0 0.1342 892.95 1765.58)" fill="#d42027">E</text>
<text transform="matrix(0.6149 0 0 6.3175 932.28 1766.90)">P</text>
<text transform="matrix(0.5327 0 0 4.2064 975.32 1710.80)">V</text>
<text transform="matrix(0.4977 0 0 0.4099 972.35 1744.40)">M</text>
<text transform="matrix(0.6781 0 0 0.1599 971.14 1759.50)">L</text>
<text transform="matrix(0.3193 0 0 0.0392 988.64 1767.00)">I</text>
<text transform="matrix(0.5674 0 0 3.0894 1011.17 1686.70)" fill="#d42027">D</text>
<text transform="matrix(0.6203 0 0 0.4186 1010.82 1721.70)" fill="#d42027">E</text>
<text transform="matrix(0.5809 0 0 0.3404 1013.30 1750.97)" fill="#3ab54a">S</text>
<text transform="matrix(0.5919 0 0 0.0422 1011.01 1758.30)" fill="#b040a0">N</text>
<text transform="matrix(0.5157 0 0 0.0226 1012.85 1762.58)" fill="#3ab54a">G</text>
<text transform="matrix(0.6149 0 0 4.2375 1050.15 1716.90)">P</text>
<text transform="matrix(0.6203 0 0 0.3096 1050.11 1744.40)" fill="#d42027">E</text>
<svg x="1051.26" y="1746.20" width="40.80" height="8.50"><text class="q" transform="matrix(0.5097 0 0 0.0663 0.40 8.20)" fill="#b040a0">Q</text></svg>
<text transform="matrix(0.6203 0 0 0.4217 1089.40 1660.09)" fill="#d42027">E</text>
<text transform="matrix(0.5482 0 0 0.3642 1089.88 1691.74)" fill="#32489f">R</text>
<text transform="matrix(0.5187 0 0 0.3067 1092.26 1719.43)">A</text>
<text transform="matrix(0.5387 0 0 0.1725 1089.95 1736.57)" fill="#32489f">K</text>
<text transform="matrix(0.5674 0 0 0.1150 1089.75 1747.12)" fill="#d42027">D</text>
<svg x="1090.55" y="1746.76" width="40.80" height="8.27"><text class="q" transform="matrix(0.5097 0 0 0.0636 0.40 7.99)" fill="#b040a0">Q</text></svg>
<text transform="matrix(0.5809 0 0 0.0261 1091.88 1759.23)" fill="#3ab54a">S</text>
<text transform="matrix(0.6203 0 0 3.3280 1128.69 1701.80)" fill="#d42027">E</text>
<text transform="matrix(0.5674 0 0 0.1991 1129.04 1721.70)" fill="#d42027">D</text>
<svg x="1129.84" y="1723.50" width="40.80" height="13.40"><text class="q" transform="matrix(0.5097 0 0 0.1255 0.40 12.84)" fill="#b040a0">Q</text></svg>
<text transform="matrix(0.5387 0 0 0.1308 1129.24 1751.30)" fill="#32489f">K</text>
<text transform="matrix(0.5809 0 0 0.0297 1131.17 1757.47)" fill="#3ab54a">S</text>
<text transform="matrix(0.5327 0 0 3.9695 1171.77 1701.10)">V</text>
<text transform="matrix(0.3193 0 0 0.4986 1185.09 1740.30)">I</text>
<text transform="matrix(0.5187 0 0 0.2994 1170.84 1765.70)">A</text>
<text transform="matrix(0.6203 0 0 6.0760 1207.27 1762.95)" fill="#d42027">E</text>
<text transform="matrix(0.6203 0 0 2.8942 1246.56 1673.27)" fill="#d42027">E</text>
<text transform="matrix(0.5387 0 0 0.8242 1247.11 1736.57)" fill="#32489f">K</text>
<text transform="matrix(0.5482 0 0 0.2108 1247.04 1756.35)" fill="#32489f">R</text>
<svg x="1247.71" y="1756.78" width="40.80" height="4.58"><text class="q" transform="matrix(0.5097 0 0 0.0191 0.40 4.50)" fill="#b040a0">Q</text></svg>
<text transform="matrix(0.6781 0 0 2.3767 1285.46 1690.42)">L</text>
<text transform="matrix(0.4977 0 0 0.9967 1286.67 1765.58)">M</text>
<text transform="matrix(0.5187 0 0 2.4862 1328.00 1687.40)">A</text>
<text transform="matrix(0.5674 0 0 0.2500 1325.49 1710.10)" fill="#d42027">D</text>
<text transform="matrix(0.5157 0 0 0.1836 1327.17 1728.42)" fill="#3ab54a">G</text>
<text transform="matrix(0.6203 0 0 0.1192 1325.14 1742.30)" fill="#d42027">E</text>
<svg x="1326.29" y="1743.50" width="40.80" height="5.10"><text class="q" transform="matrix(0.5097 0 0 0.0253 0.40 4.99)" fill="#b040a0">Q</text></svg>
<text transform="matrix(0.5919 0 0 2.9211 1364.62 1661.41)" fill="#b040a0">N</text>
<text transform="matrix(0.5910 0 0 1.2267 1367.92 1751.08)" fill="#3ab54a">T</text>
<text transform="matrix(0.5809 0 0 0.0559 1366.91 1758.93)" fill="#3ab54a">S</text>
<text transform="matrix(0.6203 0 0 0.0268 1364.43 1764.53)" fill="#d42027">E</text>
<text transform="matrix(0.6203 0 0 1.8885 1403.72 1647.60)" fill="#d42027">E</text>
<text transform="matrix(0.5387 0 0 1.1381 1404.27 1731.40)" fill="#32489f">K</text>
<text transform="matrix(0.5187 0 0 0.0799 1406.58 1741.00)">A</text>
<text transform="matrix(0.5809 0 0 0.0381 1406.20 1747.76)" fill="#3ab54a">S</text>
<svg x="1404.87" y="1749.60" width="40.80" height="5.50"><text class="q" transform="matrix(0.5097 0 0 0.0302 0.40 5.36)" fill="#b040a0">Q</text></svg>
<text transform="matrix(0.5910 0 0 0.0218 1407.21 1759.60)" fill="#3ab54a">T</text>
<text transform="matrix(0.5157 0 0 3.8554 1445.04 1710.39)" fill="#3ab54a">G</text>
<text transform="matrix(0.6203 0 0 0.1917 1443.01 1732.62)" fill="#d42027">E</text>
<text transform="matrix(0.5323 0 0 0.1676 1444.98 1748.28)" fill="#3ab54a">C</text>
<text transform="matrix(0.5387 0 0 0.0307 1443.56 1753.71)" fill="#32489f">K</text>
<text transform="matrix(0.6203 0 0 5.5312 1482.30 1749.20)" fill="#d42027">E</text>
<text transform="matrix(0.5674 0 0 0.0698 1482.65 1759.50)" fill="#d42027">D</text>
<text transform="matrix(0.5327 0 0 0.0392 1486.09 1765.70)">V</text>
<text transform="matrix(0.5919 0 0 3.3724 1521.78 1694.30)" fill="#b040a0">N</text>
<text transform="matrix(0.5674 0 0 0.2689 1521.94 1718.30)" fill="#d42027">D</text>
<text transform="matrix(0.5482 0 0 0.1701 1522.07 1735.50)" fill="#32489f">R</text>
<text transform="matrix(0.5910 0 0 0.2791 1525.08 1759.50)" fill="#3ab54a">T</text>
<text transform="matrix(0.5387 0 0 0.0203 1522.14 1765.00)" fill="#32489f">K</text>
<text transform="matrix(0.5919 0 0 3.6034 1561.07 1698.33)" fill="#b040a0">N</text>
<text transform="matrix(0.5187 0 0 0.3067 1563.74 1727.34)">A</text>
<text transform="matrix(0.5809 0 0 0.2049 1563.36 1745.60)" fill="#3ab54a">S</text>
<text transform="matrix(0.5910 0 0 0.1917 1564.37 1761.63)" fill="#3ab54a">T</text>
<text transform="matrix(0.5323 0 0 2.0782 1602.14 1648.27)" fill="#3ab54a">C</text>
<text transform="matrix(0.5809 0 0 1.1539 1602.65 1737.77)" fill="#3ab54a">S</text>
<text transform="matrix(0.5387 0 0 0.1206 1600.72 1751.30)" fill="#32489f">K</text>
<text transform="matrix(0.6781 0 0 6.2868 1639.07 1766.90)">L</text>
<text transform="matrix(0.6781 0 0 6.1910 1678.36 1765.58)">L</text>
<text transform="matrix(0.5919 0 0 6.0568 1718.23 1762.95)" fill="#32489f">H</text>
<text transform="matrix(0.6149 0 0 6.2293 1757.37 1765.58)">P</text>
<text transform="matrix(0.4977 0 0 1.3992 1797.44 1629.76)">M</text>
<text transform="matrix(0.3193 0 0 1.0734 1813.73 1708.88)">I</text>
<text transform="matrix(0.5327 0 0 0.3642 1800.41 1737.89)">V</text>
<text transform="matrix(0.5187 0 0 0.2683 1799.48 1761.63)">A</text>
<text transform="matrix(0.5323 0 0 1.8253 1837.88 1616.11)" fill="#3ab54a">C</text>
<text transform="matrix(0.5809 0 0 1.6949 1838.39 1738.87)" fill="#3ab54a">S</text>
<text transform="matrix(0.5919 0 0 0.1150 1836.10 1753.71)" fill="#b040a0">N</text>
<text transform="matrix(0.5387 0 0 0.0575 1836.46 1761.63)" fill="#32489f">K</text>
<svg x="1876.35" y="1450.05" width="40.80" height="245.64"><text class="q" transform="matrix(0.5097 0 0 2.9269 0.40 232.47)" fill="#b040a0">Q</text></svg>
<text transform="matrix(0.6781 0 0 0.5367 1874.81 1740.53)">L</text>
<text transform="matrix(0.5919 0 0 0.0958 1875.39 1751.08)" fill="#b040a0">N</text>
<text transform="matrix(0.5187 0 0 0.0575 1878.06 1757.67)">A</text>
<text transform="matrix(0.5809 0 0 0.0261 1877.68 1762.92)" fill="#3ab54a">S</text>
<text transform="matrix(0.5919 0 0 5.7885 1914.68 1755.03)" fill="#32489f">H</text>
<text transform="matrix(0.5491 0 0 0.0958 1917.70 1765.58)" fill="#3ab54a">Y</text>
<text transform="matrix(0.5157 0 0 5.9601 1955.81 1758.44)" fill="#3ab54a">G</text>
<text transform="matrix(0.4977 0 0 2.0726 1993.89 1684.00)">M</text>
<text transform="matrix(0.3193 0 0 0.3983 2010.18 1716.90)">I</text>
<text transform="matrix(0.5187 0 0 0.0901 1995.93 1727.90)">A</text>
<text transform="matrix(0.6860 0 0 0.0596 1992.63 1734.80)">F</text>
<text transform="matrix(0.5327 0 0 0.0799 1996.86 1744.40)">V</text>
<text transform="matrix(0.5919 0 0 0.0305 1993.26 1752.00)" fill="#b040a0">N</text>
<text transform="matrix(0.6203 0 0 2.3454 2032.36 1627.60)" fill="#d42027">E</text>
<text transform="matrix(0.5674 0 0 1.7268 2032.71 1751.30)" fill="#d42027">D</text>
<text transform="matrix(0.5157 0 0 0.0777 2034.39 1763.52)" fill="#3ab54a">G</text>
<text transform="matrix(0.5809 0 0 0.0254 2034.84 1768.18)" fill="#3ab54a">S</text>
</g>
<path d="M106.7 1323.1V1768.9M109.2 1766.4H80" class="ax"/>
<path d="M106.7 1663.4H80" class="ax"/>
<path d="M106.7 1560.4H80" class="ax"/>
<path d="M106.7 1457.4H80" class="ax"/>
<path d="M106.7 1354.4H80" class="ax"/>
<text class="tk" x="79.3" y="1785.7">0</text>
<text class="tk" x="79.3" y="1682.7">1</text>
<text class="tk" x="79.3" y="1579.7">2</text>
<text class="tk" x="79.3" y="1476.7">3</text>
<text class="tk" x="79.3" y="1373.7">4</text>
<text class="bits" transform="translate(40 1544.4) rotate(-90)">bits</text>
<text class="nc" x="78" y="1845.0" text-anchor="middle">N</text>
<text class="nc" x="2108" y="1845.0" text-anchor="middle">C</text>
<text class="cl" transform="translate(146.7 1771.7) rotate(-90)">154</text>
<text class="cl" transform="translate(186.0 1771.7) rotate(-90)">155</text>
<text class="cl" transform="translate(225.3 1771.7) rotate(-90)">156</text>
<text class="cl" transform="translate(264.6 1771.7) rotate(-90)">157</text>
<text class="cl" transform="translate(303.9 1771.7) rotate(-90)">158</text>
<text class="cl" transform="translate(343.1 1771.7) rotate(-90)">159</text>
<text class="cl" transform="translate(382.4 1771.7) rotate(-90)">160</text>
<text class="cl" transform="translate(421.7 1771.7) rotate(-90)">161</text>
<text class="cl" transform="translate(461.0 1771.7) rotate(-90)">162</text>
<text class="cl" transform="translate(500.3 1771.7) rotate(-90)">163</text>
<text class="cl" transform="translate(539.6 1771.7) rotate(-90)">164</text>
<text class="cl" transform="translate(578.9 1771.7) rotate(-90)">165</text>
<text class="cl" transform="translate(618.2 1771.7) rotate(-90)">166</text>
<text class="cl" transform="translate(657.5 1771.7) rotate(-90)">167</text>
<text class="cl" transform="translate(696.8 1771.7) rotate(-90)">168</text>
<text class="cl" transform="translate(736.0 1771.7) rotate(-90)">169</text>
<text class="cl" transform="translate(775.3 1771.7) rotate(-90)">170</text>
<text class="cl" transform="translate(814.6 1771.7) rotate(-90)">171</text>
<text class="cl" transform="translate(853.9 1771.7) rotate(-90)">172</text>
<text class="cl" transform="translate(893.2 1771.7) rotate(-90)">173</text>
<text class="cl" transform="translate(932.5 1771.7) rotate(-90)">174</text>
<text class="cl" transform="translate(971.8 1771.7) rotate(-90)">175</text>
<text class="cl" transform="translate(1011.1 1771.7) rotate(-90)">176</text>
<text class="cl" transform="translate(1050.4 1771.7) rotate(-90)">177</text>
<text class="cl" transform="translate(1089.7 1771.7) rotate(-90)">178</text>
<text class="cl" transform="translate(1129.0 1771.7) rotate(-90)">179</text>
<text class="cl" transform="translate(1168.2 1771.7) rotate(-90)">180</text>
<text class="cl" transform="translate(1207.5 1771.7) rotate(-90)">181</text>
<text class="cl" transform="translate(1246.8 1771.7) rotate(-90)">182</text>
<text class="cl" transform="translate(1286.1 1771.7) rotate(-90)">183</text>
<text class="cl" transform="translate(1325.4 1771.7) rotate(-90)">184</text>
<text class="cl" transform="translate(1364.7 1771.7) rotate(-90)">185</text>
<text class="cl" transform="translate(1404.0 1771.7) rotate(-90)">186</text>
<text class="cl" transform="translate(1443.3 1771.7) rotate(-90)">187</text>
<text class="cl" transform="translate(1482.6 1771.7) rotate(-90)">188</text>
<text class="cl" transform="translate(1521.8 1771.7) rotate(-90)">189</text>
<text class="cl" transform="translate(1561.1 1771.7) rotate(-90)">190</text>
<text class="cl" transform="translate(1600.4 1771.7) rotate(-90)">191</text>
<text class="cl" transform="translate(1639.7 1771.7) rotate(-90)">192</text>
<text class="cl" transform="translate(1679.0 1771.7) rotate(-90)">193</text>
<text class="cl" transform="translate(1718.3 1771.7) rotate(-90)">194</text>
<text class="cl" transform="translate(1757.6 1771.7) rotate(-90)">195</text>
<text class="cl" transform="translate(1796.9 1771.7) rotate(-90)">196</text>
<text class="cl" transform="translate(1836.2 1771.7) rotate(-90)">197</text>
<text class="cl" transform="translate(1875.5 1771.7) rotate(-90)">198</text>
<text class="cl" transform="translate(1914.8 1771.7) rotate(-90)">199</text>
<text class="cl" transform="translate(1954.0 1771.7) rotate(-90)">200</text>
<text class="cl" transform="translate(1993.3 1771.7) rotate(-90)">201</text>
<text class="cl" transform="translate(2032.6 1771.7) rotate(-90)">202</text>
<text class="cl" transform="translate(2071.9 1771.7) rotate(-90)">203</text>
<text class="an" transform="translate(415.8 60.0) scale(1 1.05)" fill="#000">37</text>
<path class="ar" d="M415.0 70.0L415.0 92.3"/><path class="ah" d="M407.6 80.3L415.0 92.3L422.4 80.3"/>
<text class="an" transform="translate(1000.0 82.5) scale(1 1.05)" fill="#000">52</text>
<path class="ar" d="M995.0 92.5L995.0 114.8"/><path class="ah" d="M987.6 102.8L995.0 114.8L1002.4 102.8"/>
<text class="an" transform="translate(1195.0 86.0) scale(1 1.05)" fill="#1b9090">57</text>
<path class="ar" d="M1190.0 92.5L1190.0 114.8"/><path class="ah" d="M1182.6 102.8L1190.0 114.8L1197.4 102.8"/>
<text class="an" transform="translate(1237.0 34.0) scale(1 1.05)" fill="#1b9090">58</text>
<path class="ar" d="M1230.0 47.5L1230.0 110.3"/><path class="ah" d="M1222.6 98.3L1230.0 110.3L1237.4 98.3"/>
<text class="an" transform="translate(1506.7 128.4) scale(1 1.05)" fill="#e18a2b">62</text>
<path class="ar" d="M1502.5 140.0L1502.5 162.3"/><path class="ah" d="M1495.1 150.3L1502.5 162.3L1509.9 150.3"/>
<text class="an" transform="translate(1583.7 197.5) scale(1 1.05)" fill="#e18a2b">63</text>
<path class="ar" d="M1582.7 209.4L1582.7 231.3"/><path class="ah" d="M1575.3 219.3L1582.7 231.3L1590.1 219.3"/>
<text class="an" transform="translate(1626.6 126.4) scale(1 1.05)" fill="#e18a2b">64</text>
<path class="ar" d="M1624.2 134.3L1624.2 156.3"/><path class="ah" d="M1616.8 144.3L1624.2 156.3L1631.6 144.3"/>
<text class="an" transform="translate(1662.7 53.5) scale(1 1.05)" fill="#e18a2b">65</text>
<path class="ar" d="M1659.8 61.2L1659.8 83.3"/><path class="ah" d="M1652.4 71.3L1659.8 83.3L1667.2 71.3"/>
<text class="an" transform="translate(1932.8 49.6) scale(1 1.05)" fill="#e18a2b">72</text>
<path class="ar" d="M1928.5 61.0L1928.5 83.3"/><path class="ah" d="M1921.1 71.3L1928.5 83.3L1935.9 71.3"/>
<text class="an" transform="translate(2049.6 49.6) scale(1 1.05)" fill="#e18a2b">75</text>
<path class="ar" d="M2047.0 61.0L2047.0 83.3"/><path class="ah" d="M2039.6 71.3L2047.0 83.3L2054.4 71.3"/>
<text class="an" transform="translate(248.3 630.1) scale(1 1.05)" fill="#000">79</text>
<path class="ar" d="M244.5 641.0L244.5 699.3"/><path class="ah" d="M237.1 687.3L244.5 699.3L251.9 687.3"/>
<text class="an" transform="translate(206.0 674.5) scale(1 1.05)" fill="#e18a2b">78</text>
<path class="ar" d="M201.4 681.3L201.4 699.3"/><path class="ah" d="M194.0 687.3L201.4 699.3L208.8 687.3"/>
<text class="an" transform="translate(1062.5 677.5) scale(1 1.05)" fill="#e18a2b">100</text>
<path class="ar" d="M1058.8 689.4L1058.8 710.0"/><path class="ah" d="M1051.4 698.0L1058.8 710.0L1066.2 698.0"/>
<text class="an" transform="translate(1428.0 671.5) scale(1 1.05)" fill="#e18a2b">109</text>
<path class="ar" d="M1426.7 678.6L1426.7 700.0"/><path class="ah" d="M1419.3 688.0L1426.7 700.0L1434.1 688.0"/>
<text class="an" transform="translate(1533.0 664.5) scale(1 1.05)" fill="#1b9090">112</text>
<path class="ar" d="M1543.0 677.4L1543.0 698.8"/><path class="ah" d="M1535.6 686.8L1543.0 698.8L1550.4 686.8"/>
<text class="an" transform="translate(1655.3 664.5) scale(1 1.05)" fill="#1b9090">115</text>
<path class="ar" d="M1659.6 677.4L1659.6 698.8"/><path class="ah" d="M1652.2 686.8L1659.6 698.8L1667.0 686.8"/>
<text class="an" transform="translate(1872.0 687.5) scale(1 1.05)" fill="#000">121</text>
<path class="ar" d="M1889.0 689.6L1889.0 709.3"/><path class="ah" d="M1881.6 697.3L1889.0 709.3L1896.4 697.3"/>
<text class="an" transform="translate(1925.6 640.2) scale(1 1.05)" fill="#1b9090">122</text>
<path class="ar" d="M1923.6 641.0L1935.0 700.1"/><path class="ah" d="M1925.5 689.7L1935.0 700.1L1940.0 686.9"/>
<text class="an" transform="translate(1976.6 683.5) scale(1 1.05)" fill="#d42027">123</text>
<path class="ar" d="M1978.2 686.3L1978.2 706.9"/><path class="ah" d="M1970.8 694.9L1978.2 706.9L1985.6 694.9"/>
<text class="an" transform="translate(2027.4 640.2) scale(1 1.05)" fill="#000">124</text>
<path class="ar" d="M2039.0 643.0L2025.6 702.2"/><path class="ah" d="M2021.0 688.8L2025.6 702.2L2035.5 692.1"/>
<text class="an" transform="translate(1231.6 1297.4) scale(1 1.05)" fill="#1b9090">154</text>
<path class="ar" d="M1229.6 1307.5L1229.6 1328.1"/><path class="ah" d="M1222.2 1316.1L1229.6 1328.1L1237.0 1316.1"/>
<text class="an" transform="translate(1498.8 1314.4) scale(1 1.05)" fill="#1b9090">160</text>
<path class="ar" d="M1501.7 1325.8L1501.7 1346.3"/><path class="ah" d="M1494.3 1334.3L1501.7 1346.3L1509.1 1334.3"/>
<text class="an" transform="translate(1658.2 1261.0) scale(1 1.05)" fill="#1b9090">164</text>
<path class="ar" d="M1662.8 1274.0L1662.8 1334.3"/><path class="ah" d="M1655.4 1322.3L1662.8 1334.3L1670.2 1322.3"/>
<text class="an" transform="translate(1706.3 1303.5) scale(1 1.05)" fill="#1b9090">165</text>
<path class="ar" d="M1701.3 1310.4L1701.3 1331.3"/><path class="ah" d="M1693.9 1319.3L1701.3 1331.3L1708.7 1319.3"/>
<text class="wl" x="2126.5" y="1890">weblogo.berkeley.edu</text>
</svg></body></html>
